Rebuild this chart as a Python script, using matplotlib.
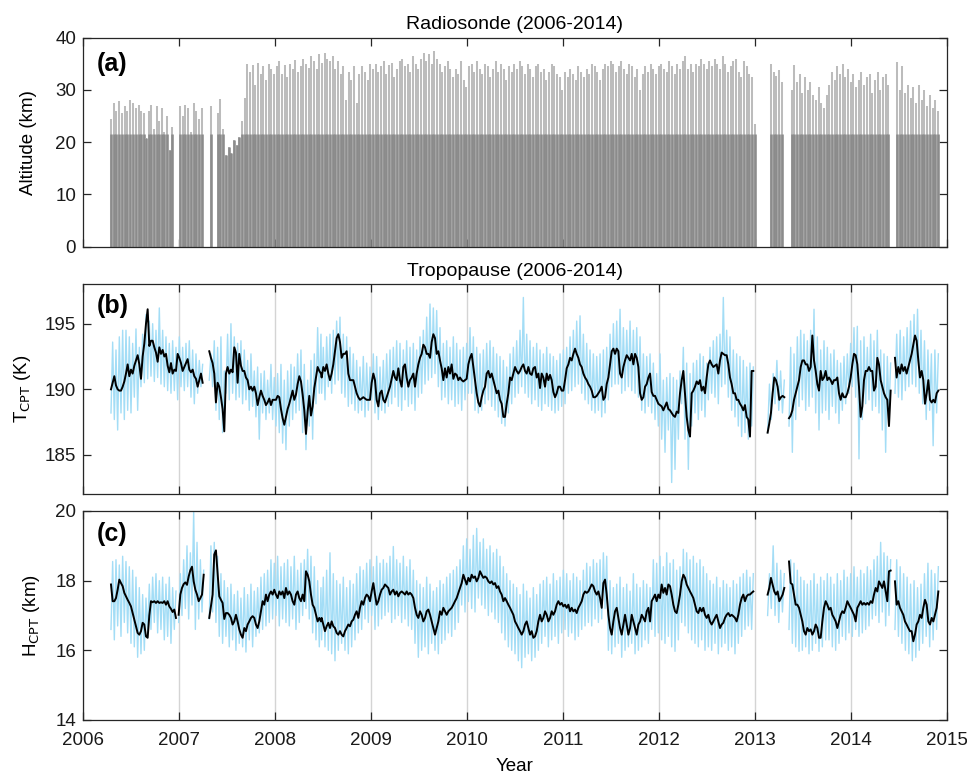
import numpy as np
import matplotlib.pyplot as plt

plt.rcParams['font.family'] = ['Liberation Sans', 'DejaVu Sans']

# ---------------------------------------------------------------
# (a) radiosonde launches: burst altitude of each sounding (km)
# ---------------------------------------------------------------
SONDE_SPANS = [(2006.292, 2006.636), (2006.66, 2006.93), (2007.01, 2007.24),
               (2007.33, 2007.455), (2007.49, 2013.00), (2013.17, 2013.28),
               (2013.385, 2014.392), (2014.48, 2014.91)]
top_2006a = [24.5, 27.5, 26.0, 27.8, 25.5, 27.0, 26.0, 28.0, 27.5, 26.5, 27.2, 26.0, 25.5]
top_2006b = [20.8, 26.0, 27.2, 22.5, 27.0, 24.0, 26.5, 22.0, 25.0, 18.5, 23.0]
top_2007a = [27.0, 25.0, 27.2, 26.5, 22.0, 27.5, 26.0, 24.5, 26.5]
top_2007b = [27.0, np.nan, np.nan, 25.5, 28.3, 22.5]
top_main = [
    17.5, 19.0, 18.0, 20.5, 19.5, 21.0, 24.0, 28.5,
    35.0, 33.5, 34.8, 31.0, 35.2, 33.0, 34.5, 32.0, 35.0, 34.0, 33.0,
    34.5, 35.5, 33.0, 34.8, 32.5, 35.0, 34.0, 35.8, 33.5, 34.5, 36.0, 35.0, 34.2, 36.5, 35.5, 34.0, 36.8, 35.2,
    37.0, 36.0, 35.5, 36.5, 34.0, 35.5, 33.0, 34.5, 28.0, 33.5, 32.0, 34.5, 27.5, 33.0, 34.5, 33.5, 32.0, 35.0,
    34.0, 35.0, 33.5, 34.5, 35.5, 33.0, 34.8, 35.2, 32.5, 34.0, 35.5, 36.0, 34.5, 35.0, 33.5, 36.5, 35.0, 34.0,
    36.0, 37.0, 35.5, 36.8, 35.0, 37.5, 36.0, 35.0, 33.5, 34.5, 35.5, 34.0, 32.5, 34.0, 33.0, 35.5, 32.0, 30.5,
    34.5, 35.0, 33.5, 35.5, 34.0, 33.0, 35.0, 34.5, 32.5, 34.0, 35.5, 33.5, 35.0, 34.0, 32.0, 34.5, 33.5, 35.0,
    34.0, 35.5, 34.5, 33.0, 35.0, 34.0, 32.5, 34.5, 35.0, 33.5, 34.0, 32.0, 33.5, 35.0, 34.5, 33.0, 32.5, 30.0,
    33.5, 32.5, 34.0, 33.0, 32.0, 34.5, 33.5, 32.5, 34.0, 33.0, 35.0, 34.5, 33.5, 32.0, 34.0, 35.0, 34.5, 35.5,
    35.0, 33.5, 34.5, 35.5, 34.0, 33.0, 35.0, 34.5, 32.5, 34.0, 30.0, 33.0, 34.5, 33.5, 35.0, 34.0, 33.0, 34.5,
    35.0, 34.0, 33.5, 35.5, 34.5, 33.0, 35.0, 34.0, 35.5, 36.5, 34.0, 35.0, 33.5, 35.0, 34.5, 36.0, 35.0, 34.0,
    35.5, 34.5, 36.0, 35.0, 34.0, 36.5, 35.0, 33.5, 34.5, 35.5, 36.0, 33.5, 32.5, 35.5, 34.5, 33.0, 32.5, 23.5]
top_2013a = [34.9, 33.5, 32.6, 33.8, 31.6]
top_2013b = [30.0, 34.8, 31.5, 33.0, 29.5, 32.5, 30.0, 31.5,
             29.0, 28.0, 30.5, 27.5, 26.5,
             29.0, 31.0, 33.5, 32.0, 34.5,
             33.0, 35.0, 32.5, 34.0, 31.5, 33.0, 30.5,
             32.0, 33.5, 31.0, 32.5, 33.0, 29.5, 32.0, 33.5, 30.0, 32.5, 33.0, 31.0]
top_2014 = [35.4, 30.0, 34.6, 29.5, 31.0, 28.5, 30.5, 27.5, 31.0, 28.0, 30.0, 27.0, 29.0, 26.5, 28.0, 26.0]
SONDE_TOPS = [top_2006a, top_2006b, top_2007a, top_2007b, top_main, top_2013a, top_2013b, top_2014]
DENSE_TOP = 21.6  # km, upper limit of the high-resolution part of each profile

# ---------------------------------------------------------------
# (b) cold-point tropopause temperature (K)
# ---------------------------------------------------------------
T_SPANS = [(2006.292, 2007.247), (2007.316, 2008.480), (2008.487, 2011.909),
           (2011.926, 2012.985), (2013.134, 2013.308), (2013.357, 2014.416),
           (2014.461, 2014.913)]
tcpt_1 = [190.0, 190.5, 191.0, 190.3, 190.0, 189.9, 189.9, 190.2, 190.6, 191.2,
          191.9, 191.0, 191.5, 191.2, 191.8, 192.2, 192.6, 191.9, 190.8, 192.5,
          193.5, 195.0, 196.1, 193.3, 193.7, 193.7, 193.2, 192.8, 192.1, 193.2,
          192.7, 193.0, 192.5, 192.7, 191.8, 191.3, 192.0, 191.2, 191.5, 191.4,
          192.7, 192.4, 192.0, 191.4, 191.7, 192.0, 192.3, 191.5, 191.3, 191.5,
          191.0, 190.8, 190.2, 190.7, 191.2, 190.5]
tcpt_2 = [192.9, 192.4, 192.0, 191.2, 189.0, 190.5, 190.2, 189.4, 188.5, 186.8,
          191.2, 191.7, 191.2, 191.5, 191.3, 193.2, 192.8, 190.5, 192.7, 191.8,
          191.4, 191.4, 190.9, 190.7, 190.0, 190.2, 189.9, 190.2, 189.7, 188.8,
          189.4, 189.9, 189.5, 189.2, 188.8, 189.0, 189.3, 188.8, 189.2, 189.2,
          189.2, 189.5, 189.4, 188.5, 187.8, 187.3, 187.9, 188.5, 188.9, 189.4,
          189.9, 189.2, 189.6, 190.4, 191.0, 190.6, 189.6, 188.4, 186.6, 188.3,
          189.5, 188.0, 188.7, 190.1, 190.9, 191.7, 191.4, 191.2]
tcpt_3 = [190.9, 191.7, 191.4, 191.9, 191.2, 190.7, 191.2, 191.9, 192.9, 193.9,
          194.2, 193.6, 192.4, 192.7, 192.7, 192.9, 191.2, 190.7, 190.7, 190.7,
          190.2, 189.7, 189.4, 189.2, 189.3, 189.4, 189.3, 189.2, 189.2, 189.2,
          190.5, 191.2, 190.7, 189.2, 188.7, 189.7, 189.9, 189.2, 189.0, 189.4,
          189.8, 190.2, 190.8, 191.4, 190.9, 190.7, 191.6, 190.7, 190.2, 191.7,
          191.9, 190.9, 190.2, 190.7, 190.9, 191.2, 190.2, 191.2, 191.9, 192.4,
          192.7, 193.4, 193.2, 192.7, 192.7, 192.4, 193.6, 194.2, 193.9, 192.7,
          192.9, 192.2, 191.6, 190.7, 191.6, 190.9, 191.7, 191.2, 191.9, 190.8,
          191.2, 191.1, 190.7, 190.9, 190.7, 190.6, 190.7, 190.8, 191.9, 192.4,
          192.7, 191.7, 190.7, 189.7, 189.0, 188.7, 189.4, 189.9, 190.2, 191.2,
          191.4, 190.9, 191.2, 190.7, 190.2, 189.7, 189.9, 189.2, 188.9, 187.9,
          187.9, 188.9, 189.7, 190.9, 190.7, 191.2, 191.7, 191.4, 191.2, 191.4,
          191.7, 191.9, 191.4, 191.2, 191.7, 191.2, 191.1, 191.6, 191.7, 190.9,
          191.2, 190.1, 191.2, 190.9, 190.2, 191.2, 190.7, 191.1, 190.7, 189.8,
          189.4, 189.7, 190.2, 190.2, 189.9, 189.9, 190.7, 191.6, 191.9, 192.4,
          192.2, 192.7, 193.1, 192.7, 192.4, 191.9, 191.7, 191.2, 190.9, 190.7,
          190.4, 190.2, 189.9, 189.4, 189.4, 189.5, 189.7, 189.9, 190.2, 189.2,
          189.4, 190.4, 190.9, 191.9, 192.9, 193.1, 192.7, 193.1, 192.9, 191.2,
          190.9, 191.7, 192.2, 192.6, 192.4, 192.2, 192.7, 191.9, 192.7, 192.4,
          191.7, 189.7, 189.2, 189.4, 190.2, 190.4, 190.9, 191.2]
tcpt_4 = [189.8, 189.5, 189.5, 189.2, 188.9, 188.8, 188.7, 188.4, 188.7, 189.0,
          188.5, 188.4, 188.2, 188.0, 187.9, 188.3, 188.2, 189.7, 190.7, 191.4,
          189.7, 187.9, 186.9, 186.4, 189.7, 189.9, 190.2, 190.6, 190.4, 190.7,
          189.9, 190.2, 189.7, 190.9, 191.9, 192.2, 191.9, 191.7, 191.8, 191.9,
          191.2, 192.2, 192.8, 192.7, 192.6, 192.6, 191.9, 190.9, 190.4, 189.7,
          189.7, 189.2, 189.2, 188.9, 188.7, 188.4, 188.8, 187.9, 187.7, 186.4,
          191.4, 191.4]
tcpt_5 = [186.7, 187.4, 188.2, 189.7, 190.9, 190.7, 190.2, 189.2, 189.4, 189.5, 189.4]
tcpt_6 = [187.8, 188.0, 188.4, 189.2, 189.7, 190.2, 190.7, 191.7, 192.2, 192.2,
          191.9, 191.9, 191.4, 191.7, 194.1, 192.2, 191.4, 190.4, 189.9, 191.4,
          190.7, 190.9, 191.4, 190.7, 190.9, 190.7, 190.4, 190.7, 190.7, 190.9,
          189.7, 189.2, 189.7, 189.4, 189.4, 189.7, 190.2, 190.9, 191.9, 192.7,
          192.6, 191.9, 190.2, 187.9, 188.7, 190.7, 191.4, 191.4, 191.7, 191.4,
          191.4, 189.9, 190.2, 192.4, 191.9, 190.7, 190.2, 189.7, 189.4, 189.2,
          187.2, 189.9]
tcpt_7 = [192.4, 190.9, 191.7, 191.2, 191.9, 191.4, 191.7, 191.2, 191.7, 192.2,
          192.7, 193.4, 194.1, 193.7, 192.2, 190.9, 191.4, 190.7, 188.9, 189.7,
          190.7, 189.2, 189.0, 189.2, 189.0, 189.7, 189.9]
T_SMOOTH = [tcpt_1, tcpt_2, tcpt_3, tcpt_4, tcpt_5, tcpt_6, tcpt_7]

# spread of the individual soundings: low / high of each ~12-day window
tlo_1 = [188.2, 187.7, 186.9, 188.2, 187.7, 188.4, 188.2, 189.4, 188.4, 190.2,
         190.5, 190.8, 191.0, 190.6, 190.9, 190.4, 190.2, 189.9, 189.7, 189.9,
         189.2, 190.2, 189.9, 190.2, 189.4, 188.9, 189.7, 190.2]
thi_1 = [193.6, 193.0, 194.0, 194.5, 194.5, 194.0, 193.5, 194.6, 193.2, 194.2,
         195.7, 195.2, 195.0, 194.5, 196.2, 194.5, 194.0, 193.5, 193.7, 193.2,
         194.0, 193.2, 193.5, 193.7, 193.0, 192.7, 192.2, 191.9]
tlo_2 = [190.7, 190.2, 188.4, 187.7, 186.7, 189.7, 189.2, 189.7, 189.2, 189.4,
         188.9, 189.2, 188.4, 188.7, 187.9, 186.2, 188.2, 187.7, 188.2, 187.7,
         187.2, 186.7, 185.9, 185.4, 187.2, 187.7, 188.2, 188.4, 186.7, 185.4,
         187.2, 186.2, 188.9, 189.7]
thi_2 = [192.7, 193.7, 193.2, 194.0, 191.4, 194.2, 195.0, 194.0, 193.5, 193.7,
         193.0, 192.2, 192.7, 191.4, 191.7, 191.2, 191.4, 190.7, 191.9, 190.9,
         191.2, 191.9, 190.7, 191.4, 191.9, 191.7, 192.7, 193.0, 191.9, 190.7,
         192.2, 192.7, 194.7, 194.2]
tlo_3 = [189.7, 189.2, 190.2, 189.7, 190.4, 190.7, 189.7, 189.4, 188.7, 188.9,
         188.4, 188.2, 188.4, 187.9, 188.4, 189.2, 188.2, 187.7, 188.4, 188.2,
         188.7, 188.9, 189.4, 188.7, 188.4, 189.2, 188.7, 188.9, 188.4, 189.4,
         189.7, 190.4, 190.7, 190.9, 191.2, 190.2, 189.2, 189.4, 188.9, 189.2,
         188.7, 188.9, 188.4, 189.2, 189.7, 189.7, 188.4, 188.2, 188.4, 188.9,
         189.2, 188.7, 188.4, 187.9, 187.4, 187.2, 188.2, 188.9, 189.4, 189.7,
         190.2, 189.7, 189.4, 188.9, 189.2, 188.7, 188.4, 188.9, 188.7, 188.4,
         188.2, 188.4, 188.7, 188.9, 189.7, 189.9, 190.2, 190.4, 189.7, 189.2,
         188.9, 188.4, 188.2, 188.4, 187.9, 188.2, 189.2, 190.2, 190.4, 190.4,
         189.7, 189.9, 190.2, 189.9, 189.7, 189.4, 188.4, 188.2, 188.7]
thi_3 = [193.2, 194.0, 194.2, 194.5, 195.2, 195.5, 194.2, 194.0, 193.2, 192.7,
         192.2, 191.7, 192.5, 192.0, 191.7, 192.7, 192.5, 191.7, 192.2, 192.7,
         193.0, 193.2, 193.7, 193.5, 193.0, 193.7, 193.2, 193.5, 193.0, 194.0,
         194.5, 195.5, 196.5, 196.2, 196.0, 194.7, 193.5, 193.7, 193.2, 194.0,
         193.5, 193.0, 193.2, 193.5, 194.7, 194.0, 193.2, 192.7, 193.0, 193.5,
         193.7, 193.2, 192.7, 192.5, 192.2, 191.7, 192.7, 193.2, 193.7, 194.5,
         197.0, 194.2, 193.7, 193.2, 193.5, 193.0, 192.7, 193.2, 192.7, 192.5,
         192.2, 192.7, 193.0, 193.2, 194.0, 194.5, 195.2, 195.6, 194.2, 193.5,
         193.0, 192.7, 192.5, 192.7, 193.0, 193.2, 194.2, 195.0, 195.2, 196.1,
         194.7, 194.5, 195.2, 194.5, 194.7, 194.0, 192.7, 192.5, 192.7]
tlo_4 = [188.2, 187.7, 187.2, 186.2, 185.2, 186.9, 182.9, 183.9, 186.2, 188.9,
         186.2, 183.9, 187.2, 188.2, 187.7, 188.4, 187.9, 189.2, 189.7, 189.4,
         188.9, 190.2, 190.4, 189.4, 188.4, 187.9, 187.2, 186.4, 186.7, 186.2,
         187.2]
thi_4 = [192.0, 191.2, 192.7, 190.7, 190.9, 191.2, 190.9, 190.7, 191.4, 193.2,
         192.0, 191.2, 192.0, 192.2, 192.7, 192.5, 192.0, 193.2, 193.7, 194.0,
         194.2, 197.0, 194.5, 194.0, 193.0, 192.7, 192.5, 192.2, 191.7, 192.0,
         191.7]
tlo_5 = [186.7, 187.7, 188.9, 188.4, 188.2]
thi_5 = [190.4, 191.2, 192.2, 191.4, 190.7]
tlo_6 = [187.2, 185.2, 187.7, 188.7, 189.2, 188.4, 188.7, 189.4, 188.2, 186.9,
         188.2, 188.4, 187.7, 188.7, 188.2, 187.4, 188.4, 188.9, 189.7, 190.2,
         189.4, 184.7, 187.7, 188.9, 189.2, 188.4, 188.7, 188.2, 186.9, 185.2,
         188.2]
thi_6 = [193.2, 192.7, 194.0, 194.5, 194.2, 193.7, 194.5, 196.1, 194.0, 193.0,
         193.7, 193.2, 192.7, 193.0, 192.2, 192.0, 192.5, 192.7, 193.5, 194.7,
         194.8, 193.7, 194.0, 193.2, 194.2, 193.7, 194.5, 193.0, 192.7, 192.5,
         192.0]
tlo_7 = [189.7, 189.4, 189.2, 189.9, 190.2, 190.4, 190.2, 189.7, 188.9, 187.7,
         188.4, 185.7, 188.2]
thi_7 = [194.2, 194.5, 194.0, 194.7, 195.2, 195.7, 196.1, 194.5, 193.7, 193.0,
         192.7, 193.0, 192.7]
T_LOW = [tlo_1, tlo_2, tlo_3, tlo_4, tlo_5, tlo_6, tlo_7]
T_HIGH = [thi_1, thi_2, thi_3, thi_4, thi_5, thi_6, thi_7]

# ---------------------------------------------------------------
# (c) cold-point tropopause height (km)
# ---------------------------------------------------------------
H_SPANS = [(2006.292, 2006.969), (2006.997, 2007.258), (2007.316, 2008.480),
           (2008.487, 2011.909), (2011.926, 2012.985), (2013.134, 2013.308),
           (2013.357, 2014.416), (2014.461, 2014.913)]
hcpt_1 = [17.89, 17.41, 17.41, 17.5, 17.74, 18.03, 17.93, 17.84, 17.65, 17.55,
          17.45, 17.36, 17.26, 17.07, 16.88, 16.69, 16.5, 16.45, 16.55, 16.79,
          16.74, 16.4, 16.36, 17.0, 17.41, 17.38, 17.41, 17.36, 17.41, 17.36,
          17.38, 17.36, 17.41, 17.31, 17.41, 17.26, 17.19, 17.1, 17.17, 16.93]
hcpt_2 = [17.02, 17.6, 17.79, 17.9, 17.95, 17.88, 18.12, 18.3, 18.4, 17.98,
          17.74, 17.6, 17.41, 17.5, 17.6, 18.17]
hcpt_3 = [16.93, 17.26, 17.6, 18.75, 18.87, 18.2, 17.55, 17.45, 17.36, 16.9,
          17.07, 17.07, 17.02, 16.93, 16.74, 16.83, 17.02, 16.83, 16.6, 16.45,
          16.36, 16.64, 16.55, 16.74, 16.83, 16.93, 16.98, 16.93, 16.74, 16.64,
          16.83, 17.12, 17.41, 17.31, 17.6, 17.41, 17.6, 17.69, 17.6, 17.74,
          17.6, 17.5, 17.69, 17.6, 17.69, 17.5, 17.79, 17.6, 17.69, 17.6,
          17.41, 17.31, 17.6, 17.69, 17.5, 17.41, 17.6, 17.41, 18.27, 18.17,
          17.98, 17.6, 17.31, 17.22, 17.02, 16.83, 16.93, 16.83]
hcpt_4 = [16.93, 16.74, 16.55, 16.69, 16.79, 16.64, 16.83, 16.69, 16.64, 16.5,
          16.45, 16.55, 16.45, 16.4, 16.55, 16.64, 16.74, 16.69, 16.83, 16.88,
          17.02, 17.12, 16.93, 17.22, 17.41, 17.31, 17.5, 17.6, 17.55, 17.41,
          17.69, 17.93, 17.6, 17.31, 17.41, 17.6, 17.74, 17.79, 17.89, 17.84,
          17.79, 17.6, 17.69, 17.74, 17.6, 17.69, 17.55, 17.65, 17.69, 17.65,
          17.6, 17.69, 17.6, 17.65, 17.6, 17.5, 17.22, 17.02, 16.93, 17.12,
          17.02, 16.83, 16.93, 17.12, 17.17, 17.02, 16.83, 16.64, 16.45, 16.64,
          16.83, 17.12, 17.02, 17.22, 17.12, 17.02, 17.12, 17.17, 17.22, 17.31,
          17.41, 17.5, 17.65, 17.79, 17.93, 18.17, 18.03, 17.89, 18.08, 17.98,
          18.17, 18.08, 18.12, 17.98, 18.08, 18.27, 18.17, 18.08, 18.12, 18.08,
          17.98, 17.93, 17.98, 17.89, 17.93, 17.79, 17.84, 17.69, 17.6, 17.41,
          17.5, 17.41, 17.31, 17.22, 17.12, 17.02, 16.83, 16.74, 16.64, 16.55,
          16.45, 16.55, 16.74, 16.83, 16.64, 16.45, 16.55, 16.36, 16.4, 16.55,
          16.83, 17.02, 16.83, 16.93, 17.12, 17.02, 16.83, 16.93, 17.12, 17.02,
          17.12, 17.31, 17.41, 17.31, 17.36, 17.26, 17.31, 17.22, 17.31, 17.12,
          17.22, 17.12, 17.17, 17.07, 17.22, 17.31, 17.41, 17.6, 17.69, 17.65,
          17.69, 17.79, 17.89, 17.84, 17.69, 17.6, 17.69, 17.5, 17.22, 17.93,
          18.03, 17.6, 17.02, 16.64, 16.45, 16.83, 17.12, 17.22, 16.93, 16.64,
          16.45, 16.74, 17.02, 16.74, 16.45, 16.64, 17.02, 16.83, 16.64, 16.45,
          16.74, 16.83, 17.02, 16.93, 16.83, 17.12, 17.22, 16.83]
hcpt_5 = [17.41, 17.5, 17.6, 17.41, 17.6, 17.5, 17.89, 17.65, 17.79, 17.6,
          17.89, 17.84, 17.6, 17.31, 17.12, 17.07, 17.31, 17.6, 17.98, 18.17,
          18.08, 17.89, 17.79, 17.69, 17.6, 17.5, 17.31, 17.12, 17.07, 17.22,
          17.12, 17.22, 17.02, 16.93, 17.02, 16.83, 16.74, 16.83, 16.93, 17.02,
          16.83, 16.64, 16.74, 16.79, 16.93, 17.02, 17.07, 16.98, 17.02, 16.98,
          16.93, 16.83, 17.02, 17.31, 17.5, 17.6, 17.41, 17.55, 17.6, 17.6,
          17.65, 17.69]
hcpt_6 = [17.6, 17.79, 18.08, 17.89, 17.69, 17.6, 17.69, 17.41, 17.5, 17.6, 17.79]
hcpt_7 = [18.55, 17.93, 17.89, 17.6, 17.31, 17.31, 17.22, 17.02, 16.83, 16.55,
          16.45, 16.64, 16.55, 16.6, 16.45, 16.55, 16.74, 16.64, 16.36, 16.36,
          16.83, 17.22, 17.41, 17.31, 17.17, 17.22, 17.02, 16.93, 16.83, 16.64,
          16.83, 17.02, 17.12, 17.07, 17.22, 17.41, 17.31, 17.22, 17.12, 17.02,
          16.83, 17.22, 17.31, 17.41, 17.31, 17.36, 17.31, 17.36, 17.31, 17.41,
          17.36, 17.6, 17.79, 17.69, 17.98, 17.89, 17.79, 17.98, 17.69, 17.41,
          18.27, 18.29]
hcpt_8 = [17.98, 17.31, 17.41, 17.22, 17.12, 17.02, 16.83, 16.74, 16.64, 16.55,
          16.55, 16.26, 16.45, 16.74, 16.83, 17.02, 16.93, 17.22, 17.45, 17.31,
          16.83, 16.74, 16.93, 16.83, 17.02, 17.22, 17.69]
H_SMOOTH = [hcpt_1, hcpt_2, hcpt_3, hcpt_4, hcpt_5, hcpt_6, hcpt_7, hcpt_8]

hlo_1 = [16.6, 16.3, 16.7, 16.4, 16.8, 16.5, 16.2, 16.1, 15.8, 15.9,
         16.0, 16.5, 16.6, 16.8, 16.5, 16.6, 16.3, 16.4, 16.2, 16.6]
hhi_1 = [18.55, 18.6, 18.45, 18.7, 18.55, 18.4, 18.3, 18.1, 17.8, 17.6,
         17.5, 17.9, 18.1, 18.2, 18.0, 18.1, 17.9, 18.1, 17.8, 17.7]
hlo_2 = [16.8, 17.0, 17.2, 16.9, 17.3, 16.6, 16.9, 17.1]
hhi_2 = [18.2, 18.6, 19.0, 18.8, 20.0, 19.1, 18.6, 18.3]
hlo_3 = [16.9, 17.1, 16.8, 16.4,
         16.2, 16.4, 16.1, 16.3, 16.0, 16.2, 16.1, 15.95, 16.3, 16.1, 16.4, 16.5, 16.6, 16.7,
         16.8, 16.9, 17.0, 16.7, 16.9, 16.8, 16.7, 16.9, 16.6, 16.8, 17.0, 17.2, 16.9, 16.5,
         16.3, 16.1]
hhi_3 = [19.0, 19.1, 18.7, 18.2,
         18.0, 17.8, 17.9, 17.6, 17.7, 17.5, 17.8, 17.6, 17.9, 17.7, 17.8, 18.1, 18.2, 18.3,
         18.6, 18.5, 18.7, 18.4, 18.5, 18.6, 18.4, 18.7, 18.3, 18.5, 18.6, 18.9, 18.7, 18.4,
         18.0, 17.8]
hlo_4 = [16.3, 16.1, 16.0, 15.9, 15.7, 16.0, 16.2, 16.0, 15.9, 16.1, 16.3, 16.5, 16.6,
         16.9, 16.8, 17.0, 16.6, 16.7, 16.9, 17.0, 17.1, 16.8, 16.9, 17.0, 16.8, 16.9, 16.7, 16.6,
         16.2, 15.8, 16.0, 16.1, 15.9, 16.2, 16.0, 15.9, 16.2, 16.3, 16.5, 16.4, 16.6, 16.8,
         17.3, 17.1, 17.4, 17.2, 17.1, 17.5, 17.3, 17.2, 17.0, 17.1, 16.9, 16.8,
         16.5, 16.3, 16.1, 16.0, 15.9, 15.7, 15.5, 15.8, 15.9, 15.7, 15.8, 16.0,
         16.2, 16.4, 16.1, 16.3, 16.4, 16.2, 16.5, 16.6, 16.4, 16.5, 16.3, 16.4, 16.6, 16.7,
         16.8, 16.7, 16.9, 16.8,
         16.9, 17.2,
         16.0, 15.9, 16.1, 16.2, 15.8, 16.0, 16.1, 16.2, 15.9, 16.0, 16.1, 16.3, 16.2]
hhi_4 = [18.1, 18.3, 18.8, 18.2, 18.0, 17.9, 18.1, 17.8, 18.0, 17.9, 18.2, 18.4, 18.3,
         18.5, 18.6, 18.4, 18.7, 18.5, 18.6, 18.5, 18.7, 18.98, 18.6, 18.5, 18.7, 18.4, 18.6, 18.3,
         18.0, 17.9, 17.8, 18.1, 17.9, 17.7, 17.8, 18.0, 17.9, 18.1, 18.2, 18.3, 18.4, 18.6,
         19.0, 19.2, 18.9, 19.3, 19.5, 19.1, 19.2, 18.9, 19.0, 18.8, 18.9, 18.7,
         18.4, 18.2, 18.0, 17.9, 17.8, 17.6, 17.9, 17.7, 17.5, 17.8, 17.6, 17.9,
         18.0, 18.1, 17.9, 18.2, 18.0, 18.1, 18.3, 18.2, 18.0, 18.2, 18.1, 18.0, 18.3, 18.5,
         18.4, 18.6, 18.5, 18.6,
         18.8, 18.7,
         18.0, 17.8, 17.9, 18.1, 17.8, 17.9, 17.7, 18.2, 17.9, 17.8, 18.0, 17.9, 17.8]
hlo_5 = [16.6, 16.4, 16.5, 16.3, 16.2, 16.4, 16.1, 15.97, 16.3,
         16.8, 16.7, 16.5, 16.3, 16.2, 16.1, 16.3, 16.0,
         16.1, 16.0, 16.2, 15.9, 16.1, 16.2, 16.0, 16.1, 15.9, 16.2, 16.4, 16.6, 16.7, 16.6]
hhi_5 = [18.6, 18.5, 18.7, 18.4, 18.8, 18.5, 18.6, 18.3, 18.4,
         18.9, 18.8, 18.6, 18.7, 18.5, 18.6, 18.4, 18.2,
         18.0, 17.9, 18.1, 17.8, 18.0, 17.9, 17.8, 18.0, 17.9, 18.1, 18.2, 18.3, 18.1, 18.2]
hlo_6 = [17.0, 17.2, 17.0, 16.8, 17.1]
hhi_6 = [18.2, 19.0, 18.5, 18.3, 18.2]
hlo_7 = [16.6, 16.2, 16.1, 15.97, 16.0, 16.1, 15.9, 16.0, 16.2, 15.97, 16.1, 16.3,
         16.3, 16.1, 16.0, 16.2, 16.4, 16.3, 16.5, 16.4, 16.6, 16.4, 16.5, 16.6, 16.7,
         16.9, 17.0, 16.8, 17.1, 16.7, 17.0]
hhi_7 = [18.6, 18.5, 18.3, 18.1, 18.0, 17.9, 18.0, 18.2, 17.9, 18.1, 18.0, 18.2,
         18.1, 17.9, 18.2, 18.0, 18.3, 18.1, 18.2, 18.4, 18.1, 18.3, 18.2, 18.4, 18.3,
         18.6, 18.7, 19.1, 18.8, 18.7, 18.6]
hlo_8 = [16.6, 16.4, 16.2, 16.0, 15.9, 15.7, 15.8, 16.0, 16.2, 16.4, 16.1, 16.3, 16.6]
hhi_8 = [18.6, 18.4, 18.2, 18.1, 17.9, 18.0, 17.8, 17.9, 18.2, 18.5, 18.3, 18.2, 18.4]
H_LOW = [hlo_1, hlo_2, hlo_3, hlo_4, hlo_5, hlo_6, hlo_7, hlo_8]
H_HIGH = [hhi_1, hhi_2, hhi_3, hhi_4, hhi_5, hhi_6, hhi_7, hhi_8]

YEARS = list(range(2006, 2016))
RAW_BLUE = '#a3ddf6'
BOX = '#262626'


def join_spans(spans, chunks, max_gap=0.02):
    """Spread each chunk evenly over its span; break the line at real data gaps."""
    ts, vs = [], []
    prev_end = None
    for (t0, t1), vals in zip(spans, chunks):
        if prev_end is not None and t0 - prev_end > max_gap:
            ts.append([np.nan])
            vs.append([np.nan])
        ts.append(np.linspace(t0, t1, len(vals)))
        vs.append(np.asarray(vals, dtype=float))
        prev_end = t1
    return np.concatenate(ts), np.concatenate(vs)


def raw_trace(spans, lows, highs):
    # alternate low / high so the trace zig-zags like the individual soundings
    chunks = [np.column_stack([lo, hi]).ravel() for lo, hi in zip(lows, highs)]
    return join_spans(spans, chunks)


def style_axis(ax):
    ax.set_xlim(2006, 2015)
    ax.set_xticks(YEARS)
    ax.tick_params(direction='in', top=True, right=True, length=5.5, width=0.9,
                   labelsize=13.5, color=BOX, labelcolor='#1a1a1a')
    ax.tick_params(axis='x', pad=9)
    ax.tick_params(axis='y', pad=5)
    for sp in ax.spines.values():
        sp.set_color(BOX)
        sp.set_linewidth(0.9)


fig = plt.figure(figsize=(9.67, 7.76), dpi=100)
left, width = 0.0858, 0.8932
ax_a = fig.add_axes([left, 0.6821, width, 0.2693])
ax_b = fig.add_axes([left, 0.3630, width, 0.2706])
ax_c = fig.add_axes([left, 0.0722, width, 0.2693])

# (a) one vertical stroke per sounding
for (t0, t1), tops in zip(SONDE_SPANS, SONDE_TOPS):
    tops = np.asarray(tops, dtype=float)
    t = np.linspace(t0, t1, len(tops))
    ok = ~np.isnan(tops)
    ax_a.vlines(t[ok], 0, tops[ok], colors='#bcbcbc', lw=1.45)
    ax_a.vlines(t[ok], 0, np.minimum(tops[ok], DENSE_TOP), colors='#8b8b8b', lw=1.85)
style_axis(ax_a)
ax_a.set_ylim(0, 40)
ax_a.set_yticks([0, 10, 20, 30, 40])
ax_a.set_xticklabels([])
ax_a.set_ylabel('Altitude (km)', fontsize=13.5)
ax_a.yaxis.set_label_coords(-0.053, 0.5)
ax_a.set_title('Radiosonde (2006-2014)', fontsize=14, pad=6)
ax_a.text(0.016, 0.875, '(a)', transform=ax_a.transAxes, fontsize=18,
          fontweight='bold', va='center', ha='left')

# (b) cold-point temperature
tb, vb = raw_trace(T_SPANS, T_LOW, T_HIGH)
ax_b.plot(tb, vb, color=RAW_BLUE, lw=1.0, zorder=2)
tb, vb = join_spans(T_SPANS, T_SMOOTH)
ax_b.plot(tb, vb, color='black', lw=1.4, zorder=3)
style_axis(ax_b)
ax_b.set_ylim(182, 198)
ax_b.set_yticks([185, 190, 195])
ax_b.set_xticklabels([])
ax_b.grid(axis='x', color='#d4d4d4', lw=1.0, zorder=1)
ax_b.set_axisbelow(True)
ax_b.set_ylabel('T$_{\\rm CPT}$ (K)', fontsize=13.5)
ax_b.yaxis.set_label_coords(-0.058, 0.5)
ax_b.set_title('Tropopause (2006-2014)', fontsize=14, pad=6)
ax_b.text(0.016, 0.895, '(b)', transform=ax_b.transAxes, fontsize=18,
          fontweight='bold', va='center', ha='left')

# (c) cold-point height
tc, vc = raw_trace(H_SPANS, H_LOW, H_HIGH)
ax_c.plot(tc, vc, color=RAW_BLUE, lw=1.0, zorder=2)
tc, vc = join_spans(H_SPANS, H_SMOOTH)
ax_c.plot(tc, vc, color='black', lw=1.4, zorder=3)
style_axis(ax_c)
ax_c.set_ylim(14, 20)
ax_c.set_yticks([14, 16, 18, 20])
ax_c.set_xticklabels([str(y) for y in YEARS])
ax_c.grid(axis='x', color='#d4d4d4', lw=1.0, zorder=1)
ax_c.set_axisbelow(True)
ax_c.set_ylabel('H$_{\\rm CPT}$ (km)', fontsize=13.5)
ax_c.yaxis.set_label_coords(-0.048, 0.5)
ax_c.set_xlabel('Year', fontsize=13.5, labelpad=6)
ax_c.text(0.016, 0.89, '(c)', transform=ax_c.transAxes, fontsize=18,
          fontweight='bold', va='center', ha='left')

fig.savefig('out.png', dpi=100)
